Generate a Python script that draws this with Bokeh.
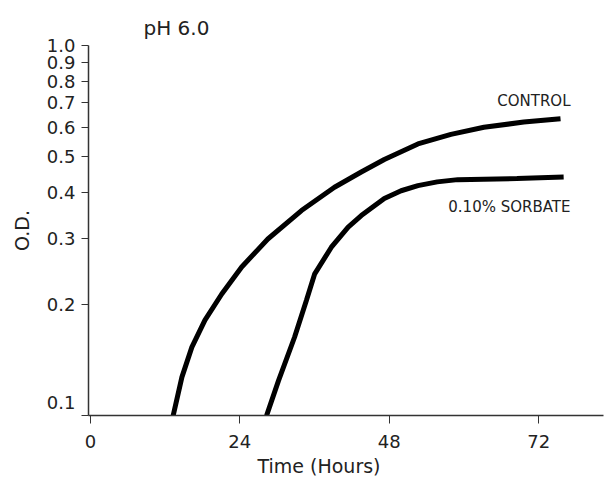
from bokeh.plotting import figure
from bokeh.models import Range1d, FixedTicker, Label, Title
from bokeh.embed import file_html
from bokeh.resources import INLINE

# ---- data ----
control_hours = [13.3, 14.7, 16.3, 18.4, 21.1, 24.3, 28.5, 33.9, 39.2, 43.5, 47.2, 52.6, 57.9, 63.2, 69.6, 75.5]
control_od = [0.100, 0.127, 0.153, 0.181, 0.213, 0.252, 0.300, 0.358, 0.414, 0.455, 0.492, 0.542, 0.575, 0.601, 0.621, 0.634]

sorbate_hours = [28.3, 30.2, 32.8, 34.7, 36.0, 38.7, 41.4, 43.5, 47.2, 49.9, 52.6, 55.7, 59.0, 68.5, 76.0]
sorbate_od = [0.100, 0.124, 0.163, 0.205, 0.241, 0.285, 0.323, 0.347, 0.386, 0.405, 0.418, 0.428, 0.434, 0.437, 0.441]

x_ticks = [0, 24, 48, 72]
y_ticks = [0.1, 0.2, 0.3, 0.4, 0.5, 0.6, 0.7, 0.8, 0.9, 1.0]
y_tick_labels = ["0.1", "0.2", "0.3", "0.4", "0.5", "0.6", "0.7", "0.8", "0.9", "1.0"]

series_names = ["CONTROL", "0.10% SORBATE"]
name_x = [77.1, 77.1]
name_y = [0.710, 0.367]

FONT = "DejaVu Sans"
TXT = "#222222"
AX = "#333333"

p = figure(width=605, height=484, output_backend="svg", toolbar_location=None,
           y_axis_type="log",
           x_range=Range1d(-0.3, 82.4), y_range=Range1d(0.1, 1.0),
           min_border_left=88, min_border_right=2, min_border_top=45,
           min_border_bottom=69)
p.outline_line_color = None
p.xgrid.visible = False
p.ygrid.visible = False
p.background_fill_color = "white"
p.border_fill_color = "white"

p.title.text = "pH 6.0"
p.title.text_font = FONT
p.title.text_font_size = "20px"
p.title.text_font_style = "normal"
p.title.text_color = TXT
p.title.align = "left"
p.title.offset = 55
p.title.vertical_align = "middle"

# axes
xa = p.xaxis[0]
xa.ticker = FixedTicker(ticks=x_ticks)
xa.minor_tick_line_color = None
xa.major_tick_in = 0
xa.major_tick_out = 8
xa.axis_line_color = AX
xa.axis_line_width = 1.5
xa.major_tick_line_color = AX
xa.major_label_text_font = FONT
xa.major_label_text_font_size = "18px"
xa.major_label_text_color = TXT
xa.major_label_standoff = 11

ya = p.yaxis[0]
ya.ticker = FixedTicker(ticks=y_ticks)
overrides = {t: s for t, s in zip(y_ticks, y_tick_labels)}
overrides[y_ticks[0]] = y_tick_labels[0] + "\n "   # lift the bottom label off the corner
ya.major_label_overrides = overrides
ya.minor_tick_line_color = None
ya.major_tick_in = 0
ya.major_tick_out = 7
ya.axis_line_color = AX
ya.axis_line_width = 1.5
ya.major_tick_line_color = AX
ya.major_label_text_font = FONT
ya.major_label_text_font_size = "18px"
ya.major_label_text_color = TXT
ya.major_label_standoff = 6
ya.axis_label = "O.D."
ya.axis_label_text_font = FONT
ya.axis_label_text_font_size = "19px"
ya.axis_label_text_font_style = "normal"
ya.axis_label_text_color = TXT
ya.axis_label_standoff = 11

# x axis title, placed as in the reference (left of centre)
p.add_layout(Title(text="Time (Hours)", align="left", offset=169,
                   text_font=FONT, text_font_size="19px", text_font_style="normal",
                   text_color=TXT, standoff=5), "below")

# curves
p.line(control_hours, control_od, line_color="black", line_width=5)
p.line(sorbate_hours, sorbate_od, line_color="black", line_width=5)

# curve names
for nm, nx, ny in zip(series_names, name_x, name_y):
    p.add_layout(Label(x=nx, y=ny, text=nm, text_align="right", text_baseline="middle",
                       text_font=FONT, text_font_size="15px", text_color=TXT))

open("out.html", "w").write(file_html(p, INLINE))
